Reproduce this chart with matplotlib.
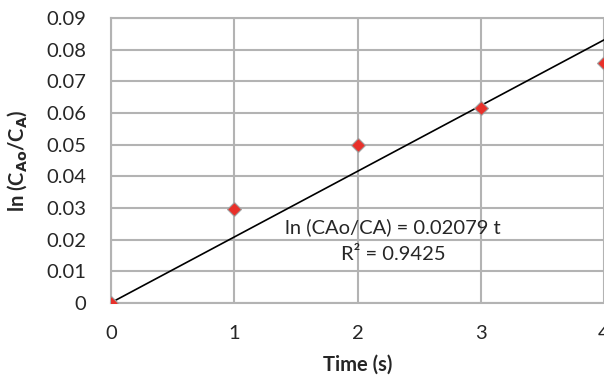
import numpy as np
import matplotlib
matplotlib.use("Agg")
import matplotlib.pyplot as plt

# Measured first-order decay data
time_s = [0, 1, 2, 3, 4]
ln_ratio = [0.0, 0.0297, 0.0500, 0.0617, 0.0760]

# Linear fit through the origin
slope = 0.02079
r_squared = 0.9425
fit_t = [0, 4.5]

y_ticks = [0, 0.01, 0.02, 0.03, 0.04, 0.05, 0.06, 0.07, 0.08, 0.09]
y_tick_labels = ["0", "0.01", "0.02", "0.03", "0.04", "0.05", "0.06", "0.07", "0.08", "0.09"]
x_ticks = [0, 1, 2, 3, 4]

plt.rcParams['font.family'] = ['Lato', 'DejaVu Sans']

fig = plt.figure(figsize=(6.04, 3.78), dpi=100)
ax = fig.add_axes([0.1838, 0.1992, 0.8162, 0.7524])

grid_c = "#b3b3b3"
txt_c = "#262626"
ax.set_xlim(0, 4)
ax.set_ylim(0, 0.09)
ax.set_yticks(y_ticks)
ax.set_yticklabels(y_tick_labels)
ax.set_xticks(x_ticks)
ax.grid(True, color=grid_c, linewidth=1.5)
ax.set_axisbelow(True)
for side in ["left", "bottom", "top"]:
    ax.spines[side].set_color(grid_c)
    ax.spines[side].set_linewidth(1.5)
ax.spines["right"].set_visible(False)
ax.tick_params(length=0, labelsize=14.5, colors=txt_c)
ax.tick_params(axis="y", pad=18)
ax.tick_params(axis="x", pad=16)

ax.plot(fit_t, [slope * t for t in fit_t], color="black", linewidth=1.2, zorder=3)
ax.plot(time_s, ln_ratio, linestyle="none", marker="D", markersize=7,
        markerfacecolor="#e8302a", markeredgecolor="#a0a0a0", markeredgewidth=0.8,
        zorder=4)

ax.text(2.29, 0.0240, f"ln (CAo/CA) = {slope} t", ha="center", va="center",
        fontsize=14.5, color=txt_c, zorder=5)
ax.text(2.29, 0.0151, f"R² = {r_squared}", ha="center", va="center",
        fontsize=14.5, color=txt_c, zorder=5)

ax.set_xlabel("Time (s)", fontsize=14.5, fontweight="bold", color=txt_c, labelpad=9)
ax.set_ylabel(r"ln (C$_{\mathbf{Ao}}$/C$_{\mathbf{A}}$)", fontsize=14.5, fontweight="bold",
              color=txt_c, labelpad=12)

fig.savefig("out.png", dpi=100)
